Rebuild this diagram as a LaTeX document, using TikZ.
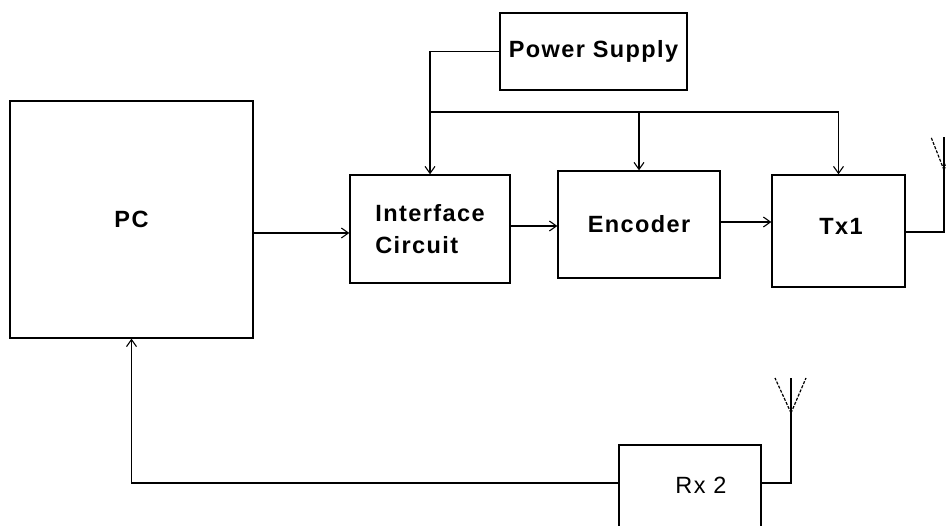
\documentclass[tikz,border=0pt]{standalone}
\usepackage{fontspec}
\setmainfont{Liberation Sans}[LetterSpace=6]
\usetikzlibrary{arrows.meta}
\begin{document}
\begin{tikzpicture}[x=1pt,y=-1pt,
  blk/.style={draw, line width=1.4pt, inner sep=0pt, font=\fontsize{23.5}{32}\selectfont\bfseries, align=center},
  lbl/.style={inner sep=0pt, font=\fontsize{23.5}{32}\selectfont},
  wire/.style={line width=1.3pt},
  arr/.style={wire, -{Straight Barb[length=7pt,width=10pt,line width=1.1pt]}},
  ant/.style={line width=1.2pt, dash pattern=on 3pt off 1.5pt}]
\useasboundingbox (0,0) rectangle (946,526);
% blocks
\node[blk, minimum width=243, minimum height=237] (pc) at (131.5,219.5) {PC};
\node[blk, minimum width=187, minimum height=77] (ps) at (593.5,51.5) {Power Supply};
\node[blk, minimum width=160, minimum height=108, align=left] (ic) at (430,229) {Interface\\Circuit};
\node[blk, minimum width=162, minimum height=107] (enc) at (639,224.5) {Encoder};
\node[blk, minimum width=133, minimum height=112] (tx) at (838.5,231) {};
\node[lbl, font=\fontsize{23.5}{32}\selectfont\bfseries] (txt) at (841,226) {Tx1};
\node[blk, minimum width=142, minimum height=90] (rx) at (690,490) {};
\node[lbl] (rxt) at (701,485) {Rx 2};
% power distribution
\coordinate (bus) at (ic.north |- 0,112);
\draw[arr] (ps.west) -| (ic.north);
\draw[wire] (bus) -- (bus -| tx.north);
\draw[arr] (bus -| enc.north) -- (enc.north);
\draw[arr] (bus -| tx.north) -- (tx.north);
% signal chain
\draw[arr] (pc.east |- 0,233) -- (ic.west |- 0,233);
\draw[arr] (ic.east |- 0,226) -- (enc.west |- 0,226);
\draw[arr] (enc.east |- 0,222) -- (tx.west |- 0,222);
% Tx antenna
\coordinate (ttop) at (944,137);
\coordinate (tap) at (944,170);
\coordinate (tl) at (931,137);
\coordinate (tr) at (957,137);
\draw[wire] (tx.east |- 0,232) -| (ttop);
\draw[ant] (tap) -- (tl);
\draw[ant] (tap) -- (tr);
% Rx antenna
\coordinate (rtop) at (791,378);
\coordinate (rap) at (791,413);
\coordinate (rl) at (775,378);
\coordinate (rr) at (806,378);
\draw[wire] (rx.east |- 0,483) -| (rtop);
\draw[ant] (rap) -- (rl);
\draw[ant] (rap) -- (rr);
% feedback to PC
\draw[arr] (rx.west |- 0,483) -| (pc.south);
\end{tikzpicture}
\end{document}
